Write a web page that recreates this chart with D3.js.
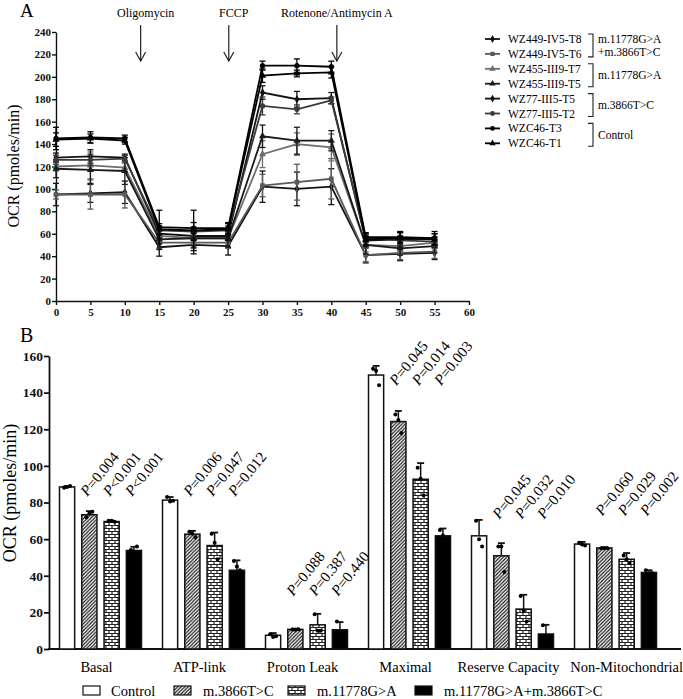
<!DOCTYPE html>
<html><head><meta charset="utf-8">
<script src="https://cdn.jsdelivr.net/npm/d3@7"></script>
<style>
body{margin:0;background:#fff;}
svg{display:block;}
svg text{font-family:"Liberation Serif","Times New Roman","Tinos","DejaVu Serif",serif !important;}
</style></head>
<body><svg id="c" width="683" height="699"></svg>
<script>
// ---------- Panel A data ----------
const timePoints = [0,5,10,15,20,25,30,35,40,45,50,55];
const seriesNames = ["WZ449-IV5-T8","WZ449-IV5-T6","WZ455-III9-T7","WZ455-III9-T5","WZ77-III5-T5","WZ77-III5-T2","WZC46-T3","WZC46-T1"];
const wz449T8 = [95,96,97,48,50,49,102,100,102,41,42,43];
const wz449T6 = [95,95,95,52,52,52,103,106,109,41,43,44];
const wz455T7 = [120,121,119,58,56,56,131,140,137,50,49,52];
const wz455T5 = [118,117,116,55,56,56,147,143,143,50,47,49];
const wz77T5  = [128,129,128,60,58,58,186,180,181,54,55,56];
const wz77T2  = [126,126,127,63,62,63,174,171,179,56,54,53];
const wzc46T3 = [145,146,145,66,65,65,210,210,209,57,57,56];
const wzc46T1 = [144,145,143,64,63,64,201,203,204,55,56,55];
const err449T8 = [10,8,10,8,8,8,14,15,16,7,6,6];
const err449T6 = [4,13,12,5,5,5,10,16,18,6,6,6];
const err455T7 = [4,12,4,4,5,5,12,10,12,6,5,5];
const err455T5 = [8,12,12,9,8,8,10,12,9,8,6,6];
const err77T5  = [4,6,3,4,4,4,6,7,5,4,6,4];
const err77T2  = [4,5,3,4,4,4,8,4,3,4,4,4];
const errC46T3 = [10,5,3,15,5,5,4,6,5,4,5,6];
const errC46T1 = [6,4,3,5,18,5,6,3,5,5,5,5];
const xTicksA = [0,5,10,15,20,25,30,35,40,45,50,55,60];
const yTicksA = [0,20,40,60,80,100,120,140,160,180,200,220,240];
const injections = [{name:"Oligomycin",t:12.3},{name:"FCCP",t:25.1},{name:"Rotenone/Antimycin A",t:40.8}];
const legendGroupsA = [["m.11778G>A","+m.3866T>C"],["m.11778G>A"],["m.3866T>C"],["Control"]];

// ---------- Panel B data ----------
const categories = ["Basal","ATP-link","Proton Leak","Maximal","Reserve Capacity","Non-Mitochondrial"];
const groupNames = ["Control","m.3866T>C","m.11778G>A","m.11778G>A+m.3866T>C"];
const controlMean = [88.5,81.3,7.5,149.6,61.8,57.3];
const controlErr  = [0.5,1.7,1.2,5,8.7,1.2];
const m3866Mean   = [73.3,62.7,10.7,124.2,50.9,55.2];
const m3866Err    = [2,1.8,0.4,5.8,6.9,0.4];
const m11778Mean  = [69.6,56.5,13.2,92.7,21.8,49];
const m11778Err   = [0.4,7.1,6,8.8,7.8,3.4];
const doubleMean  = [53.8,43,10.5,61.8,8.2,41.8];
const doubleErr   = [2,5.4,4.2,4,5,1.2];
const controlPts = [[88,88.5,89],[83,80.5,81],[8,6.5,7],[153,152,144],[70,60,56],[58,57,56.5]];
const m3866Pts   = [[72,74,75],[64,63,61],[10.7,10.5,10.8],[128,125,118],[56,56,42],[55,55,55]];
const m11778Pts  = [[70,70,69.5],[63,58,49],[19,10,10],[99,93,84],[29,21,15],[51,49,47]];
const doublePts  = [[54,53,56],[48,45,43],[15,9,7],[65,62,59],[13,7,5],[43,41,41.5]];
const pM3866  = ["=0.004","=0.006","=0.088","=0.045","=0.045","=0.060"];
const pM11778 = ["<0.001","=0.047","=0.387","=0.014","=0.032","=0.029"];
const pDouble = ["<0.001","=0.012","=0.440","=0.003","=0.010","=0.002"];
const pLabelLevel = [83,83,28.6,143.5,70.6,72.3];
const yTicksB = [0,20,40,60,80,100,120,140,160];

const svg = d3.select("#c");
const defs = svg.append("defs");
const ph = defs.append("pattern").attr("id","hatch").attr("patternUnits","userSpaceOnUse")
  .attr("width",3.5).attr("height",3.5);
ph.append("rect").attr("width",3.5).attr("height",3.5).attr("fill","#fff");
ph.append("path").attr("d","M-1,1 l2,-2 M0,3.5 l3.5,-3.5 M2.5,4.5 l2,-2").attr("stroke","#111").attr("stroke-width",1.1);
const pb = defs.append("pattern").attr("id","brick").attr("patternUnits","userSpaceOnUse")
  .attr("width",6).attr("height",6);
pb.append("rect").attr("width",6).attr("height",6).attr("fill","#fff");
pb.append("path").attr("d","M0,0.5H6 M0,3.5H6 M1,0.5V3.5 M4,3.5V6.5").attr("stroke","#222").attr("stroke-width",1.2);

// ================= Panel A =================
const xA = d3.scaleLinear().domain([0,60]).range([56,469]);
const yA = d3.scaleLinear().domain([0,240]).range([301,32]);

svg.append("text").attr("x",20).attr("y",17).attr("font-size",19).text("A");

const gAx = svg.append("g").attr("transform",`translate(0,${yA(0)})`)
  .call(d3.axisBottom(xA).tickValues(xTicksA).tickSize(4).tickSizeOuter(0));
const gAy = svg.append("g").attr("transform",`translate(${xA(0)},0)`)
  .call(d3.axisLeft(yA).tickValues(yTicksA).tickSize(4).tickSizeOuter(0));
[gAx,gAy].forEach(g=>{
  g.selectAll("path,line").attr("stroke","#111").attr("stroke-width",1.4);
  g.selectAll("text").attr("font-weight","bold").attr("font-size",11).attr("fill","#111");
});
gAy.selectAll("text").attr("x",-5);

svg.append("text").attr("transform",`translate(19,166) rotate(-90)`)
  .attr("text-anchor","middle").attr("font-size",16).text("OCR (pmoles/min)");

injections.forEach(inj=>{
  const x = xA(inj.t);
  svg.append("text").attr("x",x+ (inj.name==="Rotenone/Antimycin A"?0:5)).attr("y",17).attr("text-anchor","middle").attr("font-size",12).text(inj.name);
  svg.append("line").attr("x1",x).attr("x2",x).attr("y1",25).attr("y2",61).attr("stroke","#222").attr("stroke-width",1.2);
  svg.append("path").attr("d",`M${x-5},${52} L${x},${61} L${x+5},${52}`).attr("fill","none").attr("stroke","#222").attr("stroke-width",1.2);
});

const seriesA = [
  {v:wz449T8,e:err449T8,c:"#111",s:d3.symbolDiamond},
  {v:wz449T6,e:err449T6,c:"#5a5a5a",s:d3.symbolSquare},
  {v:wz455T7,e:err455T7,c:"#6e6e6e",s:d3.symbolTriangle},
  {v:wz455T5,e:err455T5,c:"#1a1a1a",s:d3.symbolTriangle},
  {v:wz77T5,e:err77T5,c:"#111",s:d3.symbolDiamond},
  {v:wz77T2,e:err77T2,c:"#3a3a3a",s:d3.symbolCircle},
  {v:wzc46T3,e:errC46T3,c:"#000",s:d3.symbolCircle},
  {v:wzc46T1,e:errC46T1,c:"#000",s:d3.symbolTriangle}
];
const lineA = d3.line().x((d,i)=>xA(timePoints[i])).y(d=>yA(d));
seriesA.forEach(sr=>{
  const g = svg.append("g");
  sr.v.forEach((d,i)=>{
    const x = xA(timePoints[i]);
    g.append("line").attr("x1",x).attr("x2",x).attr("y1",yA(d-sr.e[i])).attr("y2",yA(d+sr.e[i])).attr("stroke",sr.c).attr("stroke-width",1.3);
    [d-sr.e[i],d+sr.e[i]].forEach(v=>g.append("line").attr("x1",x-3).attr("x2",x+3).attr("y1",yA(v)).attr("y2",yA(v)).attr("stroke",sr.c).attr("stroke-width",1.3));
  });
  g.append("path").attr("d",lineA(sr.v)).attr("fill","none").attr("stroke",sr.c).attr("stroke-width",1.8);
  g.selectAll(".m").data(sr.v).join("path")
    .attr("transform",(d,i)=>`translate(${xA(timePoints[i])},${yA(d)})`)
    .attr("d",d3.symbol().type(sr.s).size(22)).attr("fill",sr.c);
});

// legend A
const legY0 = 39, legStep = 14.9;
seriesNames.forEach((n,i)=>{
  const y = legY0 + i*legStep;
  const sr = seriesA[i];
  svg.append("line").attr("x1",485).attr("x2",500).attr("y1",y).attr("y2",y).attr("stroke",sr.c).attr("stroke-width",1.8);
  svg.append("path").attr("transform",`translate(492.5,${y})`).attr("d",d3.symbol().type(sr.s).size(18)).attr("fill",sr.c);
  svg.append("text").attr("x",508).attr("y",y+4).attr("font-size",11.5).text(n);
});
legendGroupsA.forEach((lbls,k)=>{
  const yt = legY0 + 2*k*legStep - 5, yb = legY0 + (2*k+1)*legStep + 3;
  svg.append("path").attr("d",`M588,${yt} H593 V${yb} H588`).attr("fill","none").attr("stroke","#222").attr("stroke-width",1.1);
  const yc = (yt+yb)/2;
  lbls.forEach((l,j)=>{
    svg.append("text").attr("x",598).attr("y",yc+4 + (j - (lbls.length-1)/2)*13.5).attr("font-size",11.5).text(l);
  });
});

// ================= Panel B =================
const xB = d3.scaleBand().domain(categories).range([49,667]);
const xIn = d3.scaleBand().domain(groupNames).range([-41,41]).paddingInner(0.32);
const yB = d3.scaleLinear().domain([0,160]).range([649,356]);

svg.append("text").attr("x",20).attr("y",342).attr("font-size",20).text("B");

const gBy = svg.append("g").attr("transform",`translate(49,0)`)
  .call(d3.axisLeft(yB).tickValues(yTicksB).tickSize(5).tickSizeOuter(0));
gBy.selectAll("path,line").attr("stroke","#111").attr("stroke-width",1.8);
gBy.selectAll("text").attr("font-weight","bold").attr("font-size",13.5).attr("fill","#111").attr("x",-6);
svg.append("line").attr("x1",48).attr("x2",681).attr("y1",yB(0)).attr("y2",yB(0)).attr("stroke","#111").attr("stroke-width",1.8);

svg.append("text").attr("transform",`translate(16,493) rotate(-90)`)
  .attr("text-anchor","middle").attr("font-size",18).text("OCR (pmoles/min)");

const barSets = [
  {name:groupNames[0],m:controlMean,e:controlErr,p:controlPts,fill:"#fff"},
  {name:groupNames[1],m:m3866Mean,e:m3866Err,p:m3866Pts,fill:"url(#hatch)"},
  {name:groupNames[2],m:m11778Mean,e:m11778Err,p:m11778Pts,fill:"url(#brick)"},
  {name:groupNames[3],m:doubleMean,e:doubleErr,p:doublePts,fill:"#000"}
];
const bw = xIn.bandwidth();
categories.forEach((cat,ci)=>{
  const cx = xB(cat) + xB.bandwidth()/2;
  barSets.forEach(bs=>{
    const x0 = cx + xIn(bs.name);
    const v = bs.m[ci], e = bs.e[ci];
    const xm = x0 + bw/2;
    svg.append("line").attr("x1",xm).attr("x2",xm).attr("y1",yB(v)).attr("y2",yB(v+e)).attr("stroke","#111").attr("stroke-width",1.5);
    svg.append("line").attr("x1",xm-3.5).attr("x2",xm+3.5).attr("y1",yB(v+e)).attr("y2",yB(v+e)).attr("stroke","#111").attr("stroke-width",1.8);
    svg.append("rect").attr("x",x0).attr("y",yB(v)).attr("width",bw).attr("height",yB(0)-yB(v))
      .attr("fill",bs.fill).attr("stroke","#111").attr("stroke-width",1.5);
    bs.p[ci].forEach((pv,k)=>{
      svg.append("circle").attr("cx",xm + (k-1)*3).attr("cy",yB(pv)).attr("r",2).attr("fill","#000");
    });
  });
  const last = ci === categories.length-1;
  svg.append("text").attr("x",last ? 683 : cx-4).attr("y",672)
    .attr("text-anchor",last ? "end" : "middle").attr("font-size",14.5).text(cat);
  [[pM3866,1],[pM11778,2],[pDouble,3]].forEach(([arr,gi])=>{
    const xm = cx + xIn(groupNames[gi]) + bw/2 - 2;
    const t = svg.append("text").attr("transform",`translate(${xm},${yB(pLabelLevel[ci])}) rotate(-51)`).attr("font-size",15);
    t.append("tspan").attr("font-style","italic").text("P");
    t.append("tspan").text(arr[ci]);
  });
});

// legend B
const legB = [{x:83,fill:"#fff"},{x:174,fill:"url(#hatch)"},{x:288,fill:"url(#brick)"},{x:415,fill:"#000"}];
legB.forEach((l,i)=>{
  svg.append("rect").attr("x",l.x).attr("y",686).attr("width",17).attr("height",9).attr("fill",l.fill).attr("stroke","#111").attr("stroke-width",1.2);
  svg.append("text").attr("x",l.x+ (i===0?28:29)).attr("y",696).attr("font-size",14.5).text(groupNames[i]);
});
</script></body></html>
